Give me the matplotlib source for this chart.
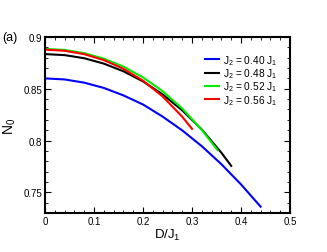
import matplotlib
matplotlib.use("Agg")
import matplotlib.pyplot as plt
from matplotlib.ticker import MultipleLocator

plt.rcParams['font.family'] = ['Liberation Sans', 'DejaVu Sans']
plt.rcParams['mathtext.fontset'] = 'custom'
plt.rcParams['mathtext.rm'] = 'Liberation Sans'
plt.rcParams['mathtext.it'] = 'Liberation Sans'

labels = ["J$_2$ = 0.40 J$_1$", "J$_2$ = 0.48 J$_1$", "J$_2$ = 0.52 J$_1$", "J$_2$ = 0.56 J$_1$"]
colors = ["#0000ff", "#000000", "#00ee00", "#ff0000"]

d_040 = [0.0, 0.04, 0.08, 0.12, 0.16, 0.20, 0.24, 0.28, 0.32, 0.36, 0.40, 0.44]
n_040 = [0.8600, 0.8590, 0.8559, 0.8508, 0.8436, 0.8348, 0.8231, 0.8098, 0.7945, 0.7771, 0.7576, 0.7361]
d_048 = [0.0, 0.04, 0.08, 0.12, 0.16, 0.20, 0.24, 0.28, 0.32, 0.36, 0.38]
n_048 = [0.8835, 0.8825, 0.8795, 0.8743, 0.8669, 0.8571, 0.8446, 0.8292, 0.8106, 0.7882, 0.7755]
d_052 = [0.0, 0.04, 0.08, 0.12, 0.16, 0.20, 0.24, 0.28, 0.32, 0.352]
n_052 = [0.8885, 0.8875, 0.8844, 0.8791, 0.8714, 0.8610, 0.8477, 0.8309, 0.8102, 0.7907]
d_056 = [0.0, 0.04, 0.08, 0.12, 0.16, 0.20, 0.24, 0.28, 0.30]
n_056 = [0.8878, 0.8867, 0.8834, 0.8777, 0.8693, 0.8578, 0.8426, 0.8230, 0.8113]

fig = plt.figure(figsize=(3.27, 2.53), dpi=100)
ax = fig.add_axes([0.1376, 0.1542, 0.7493, 0.6956])

series = [(d_040, n_040), (d_048, n_048), (d_052, n_052), (d_056, n_056)]
for (d, n), c, l in zip(series, colors, labels):
    ax.plot(d, n, color=c, lw=1.5, label=l)

ax.set_xlim(0, 0.5)
ax.set_ylim(0.73, 0.9)
ax.xaxis.set_major_locator(MultipleLocator(0.1))
ax.xaxis.set_minor_locator(MultipleLocator(0.02))
ax.yaxis.set_major_locator(MultipleLocator(0.05))
ax.yaxis.set_minor_locator(MultipleLocator(0.01))
ax.set_xticks([0, 0.1, 0.2, 0.3, 0.4, 0.5])
ax.set_xticklabels(["0", "0.1", "0.2", "0.3", "0.4", "0.5"])
ax.set_yticks([0.75, 0.8, 0.85, 0.9])
ax.set_yticklabels(["0.75", "0.8", "0.85", "0.9"])
ax.tick_params(which='both', direction='in', top=True, right=True, labelsize=7, pad=2)
ax.tick_params(which='major', length=4, width=0.8)
ax.tick_params(which='minor', length=2, width=0.6)
for s in ax.spines.values():
    s.set_linewidth(1.5)

ax.set_xlabel("D/J$_1$", fontsize=9.5, labelpad=1)
ax.set_ylabel("N$_0$", fontsize=10, labelpad=4)
fig.text(0.008, 0.85, "(a)", fontsize=9, va='center', ha='left')

leg = ax.legend(loc='upper left', bbox_to_anchor=(0.655, 0.91), frameon=False, fontsize=7.3,
                handlelength=1.3, handletextpad=0.45, labelspacing=-0.05, borderaxespad=0.0,
                borderpad=0.0)

fig.savefig("out.png", dpi=100)
